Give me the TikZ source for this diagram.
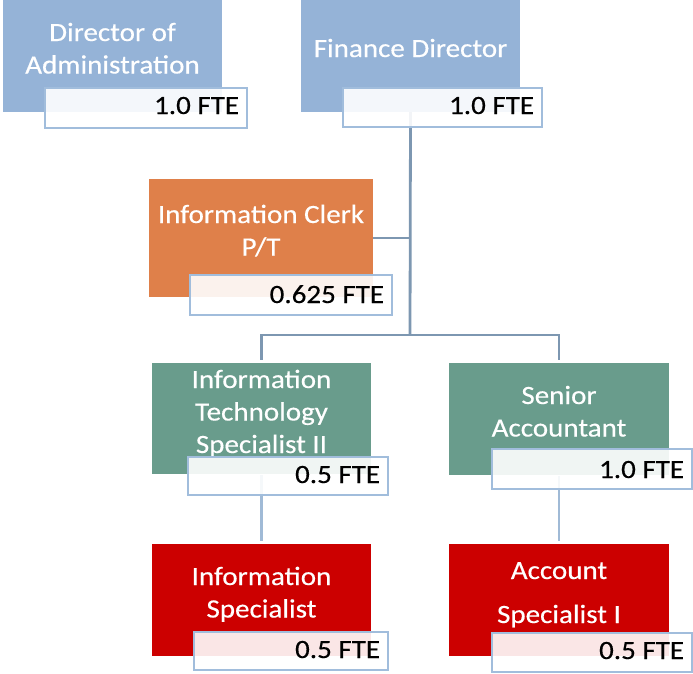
\documentclass[tikz,border=0pt]{standalone}
\usepackage{fontspec}
\setmainfont{Carlito}[FakeStretch=1.1, FakeBold=0.4]
\definecolor{boxblue}{HTML}{95B3D7}
\definecolor{boxorange}{HTML}{DF804A}
\definecolor{boxgreen}{HTML}{699C8C}
\definecolor{boxred}{HTML}{CC0000}
\definecolor{lblborder}{HTML}{A1BDDC}
\definecolor{treeline}{HTML}{7D97B1}
\definecolor{lowline}{HTML}{A0BAD6}
\tikzset{
  mainbox/.style={draw=none, inner sep=0pt, minimum width=#1},
  lblbox/.style={draw=lblborder, line width=2.6pt, fill=white, fill opacity=0.9, text opacity=1, inner sep=0pt},
  maintext/.style={text=white, inner sep=0pt, anchor=base, font=\fontsize{26.4}{32.5}\selectfont},
  ftetext/.style={text=black, inner sep=0pt, anchor=base east, font=\fontsize{26.4}{32.5}\selectfont},
  tree/.style={draw=treeline, line width=2.8pt},
  lowtree/.style={draw=lowline, line width=2.8pt},
}
\newcommand{\mybox}[6]{% name, x1, y1, x2, y2, color
  \node[mainbox=0pt, fill=#6, minimum width={(#4-#2)*1pt}, minimum height={(#5-#3)*1pt}] (#1) at ({(#2+#4)/2}, {(#3+#5)/2}) {};}
\newcommand{\mylbl}[5]{% name, x1, y1, x2, y2
  \node[lblbox, minimum width={(#4-#2)*1pt}, minimum height={(#5-#3)*1pt}] (#1) at ({(#2+#4)/2}, {(#3+#5)/2}) {};}
\begin{document}
\begin{tikzpicture}[x=1pt, y=-1pt]
\useasboundingbox (0,0) rectangle (693,673);
% boxes
\mybox{doa}{3}{0}{222}{112}{boxblue}
\mybox{fd}{301}{0}{520}{112}{boxblue}
\mybox{ic}{149}{179}{373}{297}{boxorange}
\mybox{it}{152}{363}{371}{474}{boxgreen}
\mybox{sa}{449}{363}{669}{475}{boxgreen}
\mybox{is}{152}{544}{371}{656}{boxred}
\mybox{as}{449}{544}{669}{656}{boxred}
% connectors
\coordinate (j1) at (410,335);
\draw[tree] (fd.south) -- (j1);
\draw[tree] (ic.east) -- (ic.east -| fd.south);
\draw[tree, shorten <=3pt, shorten >=3pt] (it.north) |- (j1) -| (sa.north);
\draw[lowtree, shorten <=1pt, shorten >=3pt] (it.south) -- (is.north);
\draw[lowtree, shorten <=1pt, shorten >=3pt] (sa.south) -- (as.north);
% main texts
\node[maintext] (doaT) at (112.5,41) {\begin{tabular}[t]{@{}c@{}}Director of\\Administration\end{tabular}};
\node[maintext] (fdT) at (410.5,57) {Finance Director};
\node[maintext] (icT) at (261,223) {\begin{tabular}[t]{@{}c@{}}Information Clerk\\P/T\end{tabular}};
\node[maintext] (itT) at (261.5,388) {\begin{tabular}[t]{@{}c@{}}Information\\Technology\\Specialist II\end{tabular}};
\node[maintext] (saT) at (559,404) {\begin{tabular}[t]{@{}c@{}}Senior\\Accountant\end{tabular}};
\node[maintext] (isT) at (261.5,585) {\begin{tabular}[t]{@{}c@{}}Information\\Specialist\end{tabular}};
\node[maintext] (asT) at (559,579) {\begin{tabular}[t]{@{}c@{}}Account\\[11.5pt]Specialist I\end{tabular}};
% labels
\mylbl{doaL}{45}{88}{247}{128}
\mylbl{fdL}{343}{88}{542}{127}
\mylbl{icL}{190}{275}{392}{315}
\mylbl{itL}{188}{457}{388}{495}
\mylbl{saL}{492}{449}{692}{489}
\mylbl{isL}{194}{632}{388}{670}
\mylbl{asL}{492}{633}{692}{672}
% FTE texts
\node[ftetext] (doaF) at ([xshift=-9pt]doaL.east |- 0,114) {1.0 FTE};
\node[ftetext] (fdF) at ([xshift=-9pt]fdL.east |- 0,114) {1.0 FTE};
\node[ftetext] (icF) at ([xshift=-9pt]icL.east |- 0,303) {0.625 FTE};
\node[ftetext] (itF) at ([xshift=-9pt]itL.east |- 0,483) {0.5 FTE};
\node[ftetext] (saF) at ([xshift=-9pt]saL.east |- 0,478) {1.0 FTE};
\node[ftetext] (isF) at ([xshift=-9pt]isL.east |- 0,658) {0.5 FTE};
\node[ftetext] (asF) at ([xshift=-9pt]asL.east |- 0,659) {0.5 FTE};
\end{tikzpicture}
\end{document}
